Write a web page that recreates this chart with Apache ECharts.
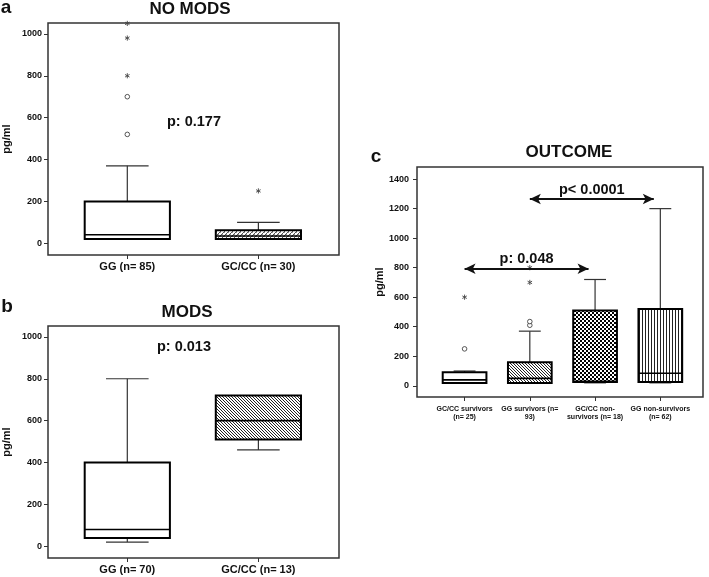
<!DOCTYPE html>
<html><head><meta charset="utf-8">
<script src="https://cdn.jsdelivr.net/npm/echarts@6/dist/echarts.min.js"></script>
<style>html,body{margin:0;padding:0;background:#fff}#c{width:709px;height:577px}</style>
</head><body><div id="c"></div>
<script>
// ---------- data ----------
const catsA = ['GG (n= 85)', 'GC/CC (n= 30)'];
const boxA = [[20, 20, 41, 200, 370], [20, 20, 35, 62, 100]]; // [low whisker, Q1, median, Q3, high whisker]
const starsA = [[1, 800], [1, 980], [1, 1050], [2, 250]];
const circlesA = [[1, 520], [1, 700]];
const pTextA = 'p: 0.177';

const catsB = ['GG (n= 70)', 'GC/CC (n= 13)'];
const boxB = [[20, 40, 80, 400, 800], [460, 510, 600, 720, 720]];
const pTextB = 'p: 0.013';

const catsC = ['GC/CC survivors\n(n= 25)', 'GG survivors (n=\n93)', 'GC/CC non-\nsurvivors (n= 18)', 'GG non-survivors\n(n= 62)'];
const boxC = [[18, 18, 40, 92, 100], [18, 18, 50, 160, 370], [20, 25, 30, 510, 720], [20, 25, 85, 520, 1200]];
const starsC = [[1, 600], [2, 700], [2, 800]];
const circlesC = [[1, 250], [2, 410], [2, 435]];
const arrowFromC = [2, 1];
const arrowToC = [3.9, 2.9];
const arrowYC = [1265, 793];
const arrowTextC = ['p< 0.0001', 'p: 0.048'];

const yTicksAB = [0, 200, 400, 600, 800, 1000];
const yTicksC = [0, 200, 400, 600, 800, 1000, 1200, 1400];
const titles = ['NO MODS', 'MODS', 'OUTCOME'];
const panelLetters = ['a', 'b', 'c'];
const yName = 'pg/ml';

// ---------- styling helpers ----------
const FF = 'Liberation Sans, Arial, Helvetica, sans-serif';

function makePattern(size, draw) {
  const cv = document.createElement('canvas');
  cv.width = size; cv.height = size;
  const ctx = cv.getContext('2d');
  ctx.fillStyle = '#fff'; ctx.fillRect(0, 0, size, size);
  draw(ctx, size);
  return { image: cv, repeat: 'repeat' };
}
const patDiag = makePattern(3, (ctx, s) => { ctx.fillStyle = '#222'; for (let i = 0; i < s; i++) ctx.fillRect(i, i, 1, 1); });
const patFine = makePattern(4, (ctx, s) => { ctx.fillStyle = '#555'; for (let i = 0; i < s; i++) ctx.fillRect(s - 1 - i, i, 1, 1); ctx.fillStyle = '#999'; ctx.fillRect(0, 0, 1, 1); ctx.fillRect(2, 2, 1, 1); });
const patCheck = makePattern(4, (ctx) => { ctx.fillStyle = '#000'; ctx.fillRect(0, 0, 2, 2); ctx.fillRect(2, 2, 2, 2); });
const patVert = makePattern(3, (ctx, s) => { ctx.fillStyle = '#222'; ctx.fillRect(0, 0, 1, s); });

function boxRender(fills, ratio) {
  return function (params, api) {
    const x = api.value(0);
    const lo = api.value(1), q1 = api.value(2), md = api.value(3), q3 = api.value(4), hi = api.value(5);
    const w = api.size([1, 0])[0] * ratio;
    const pLo = api.coord([x, lo]), pQ1 = api.coord([x, q1]), pMd = api.coord([x, md]);
    const pQ3 = api.coord([x, q3]), pHi = api.coord([x, hi]);
    const cx = pMd[0];
    const ws = { stroke: '#333', lineWidth: 1.2 };
    return {
      type: 'group', children: [
        { type: 'line', shape: { x1: cx, y1: pQ3[1], x2: cx, y2: pHi[1] }, style: ws },
        { type: 'line', shape: { x1: cx - w / 4, y1: pHi[1], x2: cx + w / 4, y2: pHi[1] }, style: ws },
        { type: 'line', shape: { x1: cx, y1: pQ1[1], x2: cx, y2: pLo[1] }, style: ws },
        { type: 'line', shape: { x1: cx - w / 4, y1: pLo[1], x2: cx + w / 4, y2: pLo[1] }, style: ws },
        { type: 'rect', shape: { x: cx - w / 2, y: pQ3[1], width: w, height: pQ1[1] - pQ3[1] },
          style: { fill: fills[params.dataIndex], stroke: '#000', lineWidth: 2 } },
        { type: 'line', shape: { x1: cx - w / 2, y1: pMd[1], x2: cx + w / 2, y2: pMd[1] }, style: { stroke: '#000', lineWidth: 1.6 } }
      ]
    };
  };
}
function starRender(params, api) {
  const p = api.coord([api.value(0), api.value(1)]);
  const r = 2.6, ch = [];
  for (let k = 0; k < 3; k++) {
    const a = Math.PI / 2 + k * Math.PI / 3;
    ch.push({ type: 'line', shape: { x1: p[0] - r * Math.cos(a), y1: p[1] - r * Math.sin(a), x2: p[0] + r * Math.cos(a), y2: p[1] + r * Math.sin(a) },
      style: { stroke: '#444', lineWidth: 0.9 } });
  }
  return { type: 'group', children: ch };
}
function circleRender(params, api) {
  const p = api.coord([api.value(0), api.value(1)]);
  return { type: 'circle', shape: { cx: p[0], cy: p[1], r: 2.3 }, style: { fill: '#fff', stroke: '#444', lineWidth: 0.9 } };
}
const withIdx = arr => arr.map((b, i) => [i + 1].concat(b));

function xAxisDef(gi, min, max, cats, fontSize, lineHeight, margin) {
  const vals = cats.map((_, i) => i + 1);
  return {
    type: 'value', gridIndex: gi, min: min, max: max, position: 'bottom',
    splitLine: { show: false }, axisLine: { show: false, onZero: false },
    axisTick: { show: true, length: 4, customValues: vals, lineStyle: { color: '#333', width: 1 } },
    axisLabel: { customValues: vals, formatter: v => cats[Math.round(v) - 1] || '', fontSize: fontSize, lineHeight: lineHeight,
      fontWeight: 'bold', fontFamily: FF, color: '#111', margin: margin }
  };
}
function yAxisDef(gi, min, max, ticks, margin, nameGap) {
  return {
    type: 'value', gridIndex: gi, min: min, max: max, position: 'left',
    splitLine: { show: false }, axisLine: { show: false, onZero: false },
    axisTick: { show: true, length: 4, customValues: ticks, lineStyle: { color: '#333', width: 1 } },
    axisLabel: { customValues: ticks, formatter: v => String(v), fontSize: 9, fontWeight: 'bold', fontFamily: FF, color: '#111', margin: margin },
    name: yName, nameLocation: 'middle', nameGap: nameGap, nameRotate: 90,
    nameTextStyle: { fontSize: 11, fontWeight: 'bold', fontFamily: FF, color: '#111' }
  };
}
const gridStyle = { show: true, borderColor: '#333', borderWidth: 1.5, backgroundColor: 'rgba(0,0,0,0)', containLabel: false, outerBoundsMode: 'none' };

function txt(text, x, y, size) {
  return { type: 'text', x: x, y: y, silent: true,
    style: { text: text, font: 'bold ' + size + 'px ' + FF, fill: '#111', textAlign: 'center', textVerticalAlign: 'middle' } };
}

const chart = echarts.init(document.getElementById('c'));
chart.setOption({
  animation: false,
  backgroundColor: '#fff',
  grid: [
    Object.assign({ left: 48, top: 23, width: 291, height: 232 }, gridStyle),
    Object.assign({ left: 48, top: 326, width: 291, height: 232 }, gridStyle),
    Object.assign({ left: 417, top: 167, width: 286, height: 230 }, gridStyle)
  ],
  xAxis: [
    xAxisDef(0, 0.395, 2.615, catsA, 11, 12, 6),
    xAxisDef(1, 0.395, 2.615, catsB, 11, 12, 6),
    xAxisDef(2, 0.271, 4.654, catsC, 7, 8, 8)
  ],
  yAxis: [
    yAxisDef(0, -56, 1052, yTicksAB, 6, 36),
    yAxisDef(1, -56, 1052, yTicksAB, 6, 36),
    yAxisDef(2, -76, 1482, yTicksC, 8, 22)
  ],
  series: [
    { type: 'custom', xAxisIndex: 0, yAxisIndex: 0, renderItem: boxRender(['#fff', patFine], 0.65), data: withIdx(boxA) },
    { type: 'custom', xAxisIndex: 0, yAxisIndex: 0, renderItem: starRender, data: starsA },
    { type: 'custom', xAxisIndex: 0, yAxisIndex: 0, renderItem: circleRender, data: circlesA },
    { type: 'custom', xAxisIndex: 1, yAxisIndex: 1, renderItem: boxRender(['#fff', patDiag], 0.65), data: withIdx(boxB) },
    { type: 'custom', xAxisIndex: 2, yAxisIndex: 2, renderItem: boxRender(['#fff', patDiag, patCheck, patVert], 0.67), data: withIdx(boxC),
      markLine: {
        silent: true, symbol: ['arrow', 'arrow'], symbolSize: [8, 11], animation: false,
        lineStyle: { color: '#111', width: 2, type: 'solid' },
        label: { show: true, position: 'middle', formatter: '{b}', distance: 2, fontSize: 14.5, fontWeight: 'bold', fontFamily: FF, color: '#111' },
        emphasis: { disabled: true },
        data: arrowFromC.map((f, i) => [{ coord: [f, arrowYC[i]], name: arrowTextC[i] }, { coord: [arrowToC[i], arrowYC[i]] }])
      } },
    { type: 'custom', xAxisIndex: 2, yAxisIndex: 2, renderItem: starRender, data: starsC },
    { type: 'custom', xAxisIndex: 2, yAxisIndex: 2, renderItem: circleRender, data: circlesC }
  ],
  graphic: [
    txt(titles[0], 190, 9, 17),
    txt(titles[1], 187, 312, 17),
    txt(titles[2], 569, 152, 17),
    txt(panelLetters[0], 6, 8, 19),
    txt(panelLetters[1], 7, 307, 19),
    txt(panelLetters[2], 376, 157, 19),
    txt(pTextA, 194, 122, 14.5),
    txt(pTextB, 184, 347, 14.5)
  ]
});
</script></body></html>
